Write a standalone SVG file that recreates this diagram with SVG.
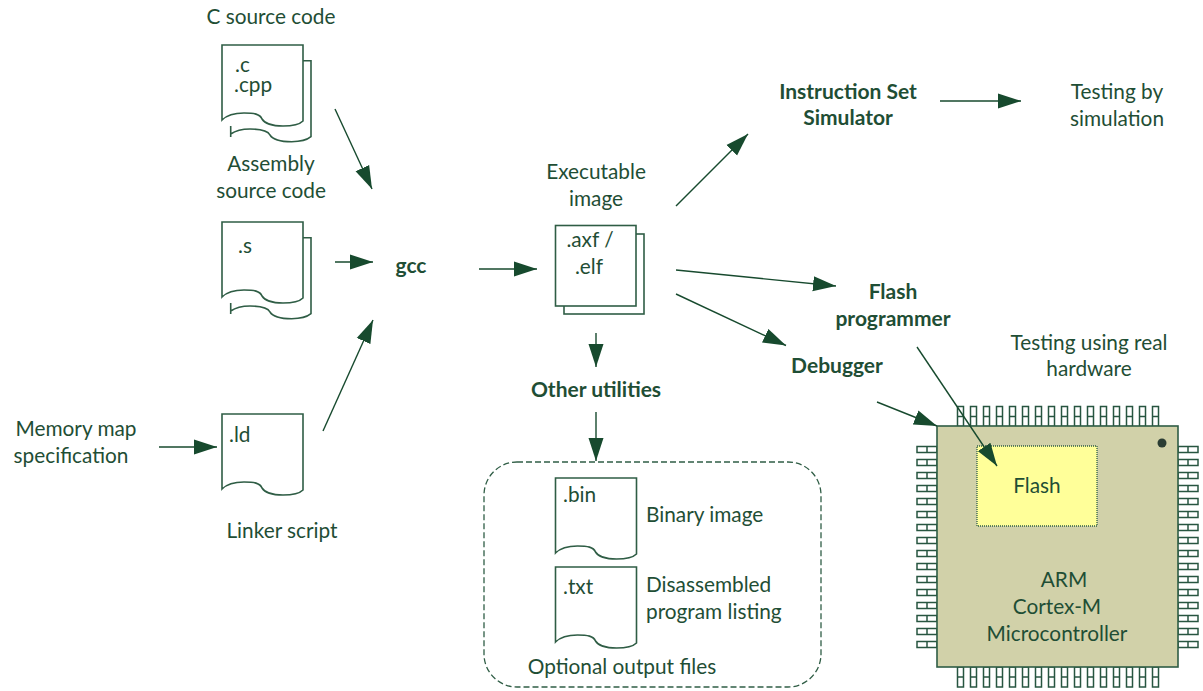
<svg xmlns="http://www.w3.org/2000/svg" width="1203" height="691" viewBox="0 0 1203 691">
<style>
text{font-family:"Lato","Carlito","Liberation Sans",sans-serif;font-size:20.800px;fill:#1f4e35;text-anchor:middle}
.b{font-weight:700;font-size:21px}
.l{text-anchor:start}
.s{fill:none;stroke:#2f5d45;stroke-width:1.600}
.w{fill:#fff;stroke:#2f5d45;stroke-width:1.600}
.c{fill:none;stroke:#174a2e;stroke-width:1.400;marker-end:url(#a)}
.pin{fill:#fff;stroke:#275540;stroke-width:1.500}
.bar{fill:none;stroke:#275540;stroke-width:1.500}
</style>
<defs>
<marker id="a" markerUnits="userSpaceOnUse" markerWidth="24" markerHeight="16" refX="23" refY="8" orient="auto"><path d="M0 0.500L23 8L0 15.500Z" fill="#174a2e"/></marker>
<path id="doc" d="M0 0H81V76C78 79 70 81 61 81C52 81 43 79 40 74C38 69 32 68 22 68C14 68 5 70 0 75Z"/>
<path id="back" d="M81 15.700H89V91.700C85 95 77 96.700 69.700 96.700C60 96.700 51 95 48 90C46 86 38 84 28 84C20 84 13 86 8.700 89M8.700 81V92"/>
<g id="hp"><rect x="0" y="0" width="20" height="6" class="pin"/><path d="M10 0V6" class="bar"/></g>
<g id="vp"><rect x="0" y="0" width="6" height="20" class="pin"/><path d="M0 10H6" class="bar"/></g>
</defs>

<g id="connectors">
<path class="c" d="M335 109L372 189"/>
<path class="c" d="M335 262H373"/>
<path class="c" d="M323 431L373 320"/>
<path class="c" d="M159 447H217"/>
<path class="c" d="M479 269H537"/>
<path class="c" d="M676 206L748 134"/>
<path class="c" d="M940 101H1021"/>
<path class="c" d="M676 270L836 286"/>
<path class="c" d="M676 294L786 345.500"/>
<path class="c" d="M596 333V367"/>
<path class="c" d="M596 412V461"/>
</g>

<g id="c-source">
<text x="271" y="24">C source code</text>
<use href="#back" x="222" y="45" class="s"/>
<use href="#doc" x="222" y="45" class="w"/>
<text class="l"><tspan x="235" y="72">.c</tspan><tspan x="234" y="92">.cpp</tspan></text>
</g>

<g id="asm-source">
<text x="271" y="171">Assembly</text>
<text x="271" y="198">source code</text>
<use href="#back" x="222" y="222" class="s"/>
<use href="#doc" x="222" y="222" class="w"/>
<text class="l" x="238" y="253">.s</text>
</g>

<g id="memory-map">
<text x="76" y="436">Memory map</text>
<text x="71" y="463">specification</text>
</g>

<g id="linker-script">
<use href="#doc" x="222" y="414" class="w"/>
<text class="l" x="229" y="442">.ld</text>
<text x="282" y="538">Linker script</text>
</g>

<g id="gcc"><text class="b" x="411" y="273">gcc</text></g>

<g id="executable">
<text x="596" y="179">Executable</text>
<text x="596" y="206">image</text>
<rect x="564" y="234" width="80" height="80" class="w"/>
<rect x="555.500" y="225.500" width="80.500" height="80.500" class="w"/>
<text x="590" y="247">.axf /</text>
<text x="589" y="274">.elf</text>
</g>

<g id="iss">
<text class="b" x="848" y="99">Instruction Set</text>
<text class="b" x="848" y="125">Simulator</text>
</g>

<g id="testing-sim">
<text x="1117" y="99">Testing by</text>
<text x="1117" y="126">simulation</text>
</g>

<g id="flash-programmer">
<text class="b" x="893" y="299">Flash</text>
<text class="b" x="893" y="326">programmer</text>
</g>

<g id="debugger"><text class="b" x="837" y="373">Debugger</text></g>

<g id="testing-hw">
<text x="1089" y="350">Testing using real</text>
<text x="1089" y="376">hardware</text>
</g>

<g id="other-utilities"><text class="b" x="596" y="397">Other utilities</text></g>

<g id="optional-output">
<rect x="484" y="462" width="337" height="225" rx="33" ry="33" fill="none" stroke="#2f5d45" stroke-width="1.300" stroke-dasharray="6 3"/>
<use href="#doc" x="555.500" y="478" class="w"/>
<text class="l" x="563" y="502">.bin</text>
<text class="l" x="646" y="522">Binary image</text>
<use href="#doc" x="555.500" y="567" class="w"/>
<text class="l" x="563" y="594">.txt</text>
<text class="l" x="646" y="592">Disassembled</text>
<text class="l" x="646" y="619">program listing</text>
<text x="622" y="674">Optional output files</text>
</g>

<g id="chip">
<g id="pins-top"><use href="#vp" x="957.500" y="406.500"/><use href="#vp" x="970.500" y="406.500"/><use href="#vp" x="983.500" y="406.500"/><use href="#vp" x="996.500" y="406.500"/><use href="#vp" x="1009.500" y="406.500"/><use href="#vp" x="1022.500" y="406.500"/><use href="#vp" x="1035.500" y="406.500"/><use href="#vp" x="1048.500" y="406.500"/><use href="#vp" x="1061.500" y="406.500"/><use href="#vp" x="1074.500" y="406.500"/><use href="#vp" x="1087.500" y="406.500"/><use href="#vp" x="1100.500" y="406.500"/><use href="#vp" x="1113.500" y="406.500"/><use href="#vp" x="1126.500" y="406.500"/><use href="#vp" x="1139.500" y="406.500"/><use href="#vp" x="1152.500" y="406.500"/></g>
<g id="pins-bottom"><use href="#vp" x="957.500" y="667"/><use href="#vp" x="970.500" y="667"/><use href="#vp" x="983.500" y="667"/><use href="#vp" x="996.500" y="667"/><use href="#vp" x="1009.500" y="667"/><use href="#vp" x="1022.500" y="667"/><use href="#vp" x="1035.500" y="667"/><use href="#vp" x="1048.500" y="667"/><use href="#vp" x="1061.500" y="667"/><use href="#vp" x="1074.500" y="667"/><use href="#vp" x="1087.500" y="667"/><use href="#vp" x="1100.500" y="667"/><use href="#vp" x="1113.500" y="667"/><use href="#vp" x="1126.500" y="667"/><use href="#vp" x="1139.500" y="667"/><use href="#vp" x="1152.500" y="667"/></g>
<g id="pins-left"><use href="#hp" x="917" y="446.500"/><use href="#hp" x="917" y="459.500"/><use href="#hp" x="917" y="472.500"/><use href="#hp" x="917" y="485.500"/><use href="#hp" x="917" y="498.500"/><use href="#hp" x="917" y="511.500"/><use href="#hp" x="917" y="524.500"/><use href="#hp" x="917" y="537.500"/><use href="#hp" x="917" y="550.500"/><use href="#hp" x="917" y="563.500"/><use href="#hp" x="917" y="576.500"/><use href="#hp" x="917" y="589.500"/><use href="#hp" x="917" y="602.500"/><use href="#hp" x="917" y="615.500"/><use href="#hp" x="917" y="628.500"/><use href="#hp" x="917" y="641.500"/></g>
<g id="pins-right"><use href="#hp" x="1178" y="446.500"/><use href="#hp" x="1178" y="459.500"/><use href="#hp" x="1178" y="472.500"/><use href="#hp" x="1178" y="485.500"/><use href="#hp" x="1178" y="498.500"/><use href="#hp" x="1178" y="511.500"/><use href="#hp" x="1178" y="524.500"/><use href="#hp" x="1178" y="537.500"/><use href="#hp" x="1178" y="550.500"/><use href="#hp" x="1178" y="563.500"/><use href="#hp" x="1178" y="576.500"/><use href="#hp" x="1178" y="589.500"/><use href="#hp" x="1178" y="602.500"/><use href="#hp" x="1178" y="615.500"/><use href="#hp" x="1178" y="628.500"/><use href="#hp" x="1178" y="641.500"/></g>
<rect x="937" y="426" width="241" height="241" fill="#d1d1a9" stroke="#2f5d45" stroke-width="1.600"/>
<circle cx="1162" cy="443" r="4.500" fill="#2b3d33"/>
<text x="1064" y="587">ARM</text>
<text x="1057" y="614">Cortex-M</text>
<text x="1057" y="641">Microcontroller</text>
</g>

<g id="flash">
<rect x="977" y="446" width="120" height="80" fill="#ffff99" stroke="#2f5d45" stroke-width="1.300" stroke-dasharray="1 1"/>
<text x="1037" y="493">Flash</text>
</g>

<g id="connectors-over-chip">
<path class="c" d="M877 402L937 426"/>
<path class="c" d="M917 347L997 466"/>
</g>
</svg>
